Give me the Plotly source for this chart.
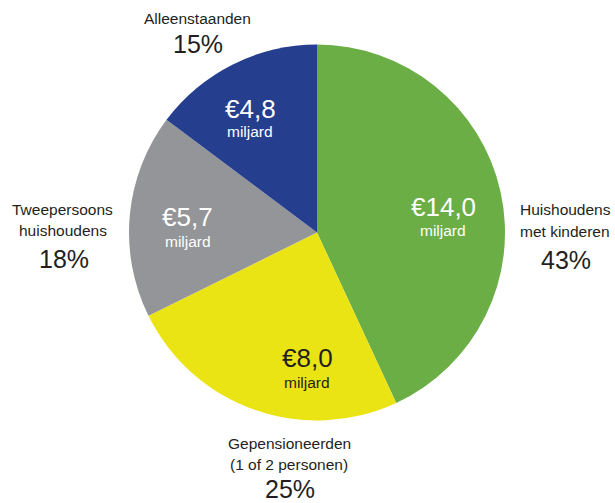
import plotly.graph_objects as go

categories = ["Huishoudens met kinderen", "Gepensioneerden (1 of 2 personen)",
              "Tweepersoons huishoudens", "Alleenstaanden"]
values = [14.0, 8.0, 5.7, 4.8]
value_labels = ["€14,0", "€8,0", "€5,7", "€4,8"]
unit_label = "miljard"
pct_labels = ["43%", "25%", "18%", "15%"]
outside_names = [["Huishoudens", "met kinderen"], ["Gepensioneerden", "(1 of 2 personen)"],
                 ["Tweepersoons", "huishoudens"], ["Alleenstaanden"]]
colors = ["#6aae45", "#ebe414", "#939598", "#253e8e"]
text_colors = ["#ffffff", "#231f20", "#ffffff", "#ffffff"]

FONT = "Liberation Sans, Arial, Helvetica, sans-serif"
INK = "#231f20"
W, H = 615, 503

fig = go.Figure(go.Pie(
    labels=categories,
    values=values,
    textinfo="none",
    marker=dict(colors=colors, line=dict(width=0)),
    sort=False,
    direction="clockwise",
    rotation=0,
    domain=dict(x=[129 / W, 505 / W], y=[1 - 421 / H, 1 - 44 / H]),
    showlegend=False,
    hoverinfo="skip",
))

def px(x, y):
    return x / W, 1 - y / H

# layout positions (pixels) for the in-slice labels: (x, y of value, y of unit)
inside_pos = [(443, 207, 230), (307, 358, 382), (188, 217, 242), (250, 109, 131)]
for val, col, (x, yv, yu) in zip(value_labels, text_colors, inside_pos):
    ax, ay = px(x, yv)
    fig.add_annotation(x=ax, y=ay, xref="paper", yref="paper", text=val, showarrow=False,
                       xanchor="center", yanchor="middle",
                       font=dict(family=FONT, size=26, color=col))
    ax, ay = px(x, yu)
    fig.add_annotation(x=ax, y=ay, xref="paper", yref="paper", text=unit_label, showarrow=False,
                       xanchor="center", yanchor="middle",
                       font=dict(family=FONT, size=15.5, color=col))

# outside labels: (x center, y per name line, y of pct)
outside_pos = [(565, [209, 231], 260), (289, [443, 464], 489), (63, [209, 230], 259), (197, [18], 44)]
for names, pct, (x, ys, yp) in zip(outside_names, pct_labels, outside_pos):
    for nm, yn in zip(names, ys):
        ax, ay = px(x, yn)
        fig.add_annotation(x=ax, y=ay, xref="paper", yref="paper", text=nm, showarrow=False,
                           xanchor="center", yanchor="middle",
                           font=dict(family=FONT, size=15.5, color=INK))
    ax, ay = px(x + 1, yp)
    fig.add_annotation(x=ax, y=ay, xref="paper", yref="paper", text=pct, showarrow=False,
                       xanchor="center", yanchor="middle",
                       font=dict(family=FONT, size=25, color=INK))

fig.update_layout(
    width=W, height=H,
    margin=dict(l=0, r=0, t=0, b=0),
    paper_bgcolor="white", plot_bgcolor="white",
)
fig.write_html("out.html", config={"displayModeBar": False},
               post_script="document.body.style.margin='0';")
